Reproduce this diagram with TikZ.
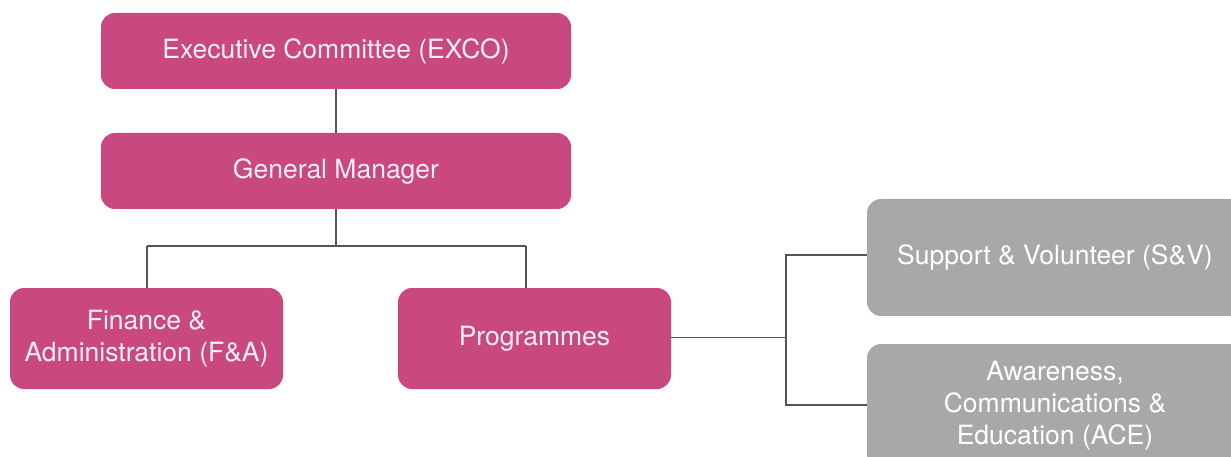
\documentclass[tikz,border=0pt]{standalone}
\usepackage{fontspec}
\setmainfont{TeX Gyre Heros}
\definecolor{pinkbox}{HTML}{C94880}
\definecolor{graybox}{HTML}{A7A8AA}
\definecolor{linecol}{HTML}{555555}
\definecolor{boxtext}{HTML}{FBEFF4}
\begin{document}
\begin{tikzpicture}[x=1pt,y=-1pt,
  box/.style={fill=pinkbox,rounded corners=14pt,text=boxtext,align=center,
    font=\fontsize{26.5}{32}\selectfont,inner sep=0pt},
  gbox/.style={box,fill=graybox,text=white},
  conn/.style={draw=linecol,line width=1.1pt}]
\useasboundingbox (0,0) rectangle (1231,457);
\clip (0,0) rectangle (1231,457);
\node[box,minimum width=470pt,minimum height=76pt] (exco) at (336,51) {Executive Committee (EXCO)};
\node[box,minimum width=470pt,minimum height=76pt] (gm) at (336,171) {General Manager};
\node[box,minimum width=273pt,minimum height=101pt] (fa) at (146.5,338.5) {Finance \&\\Administration (F\&A)};
\node[box,minimum width=273pt,minimum height=101pt] (prog) at (534.5,338.5) {Programmes};
\node[gbox,minimum width=376pt,minimum height=117pt] (sv) at (1055,257.5) {Support \& Volunteer (S\&V)};
\node[gbox,minimum width=376pt,minimum height=124pt] (ace) at (1055,406) {Awareness,\\Communications \&\\Education (ACE)};
\coordinate (j1) at (336,246);
\coordinate (jfa) at (147,246);
\coordinate (jpr) at (526,246);
\coordinate (j2) at (786,337.5);
\draw[conn] (exco.south) -- (gm.north);
\draw[conn] (gm.south) -- (j1);
\draw[conn] (jfa) -- (jpr);
\draw[conn] (jfa) -- (jfa |- fa.north);
\draw[conn] (jpr) -- (jpr |- prog.north);
\draw[conn] (prog.east |- j2) -- (j2);
\draw[conn] (sv.west |- 0,255) -| (786,405) -- (ace.west |- 0,405);
\end{tikzpicture}
\end{document}
